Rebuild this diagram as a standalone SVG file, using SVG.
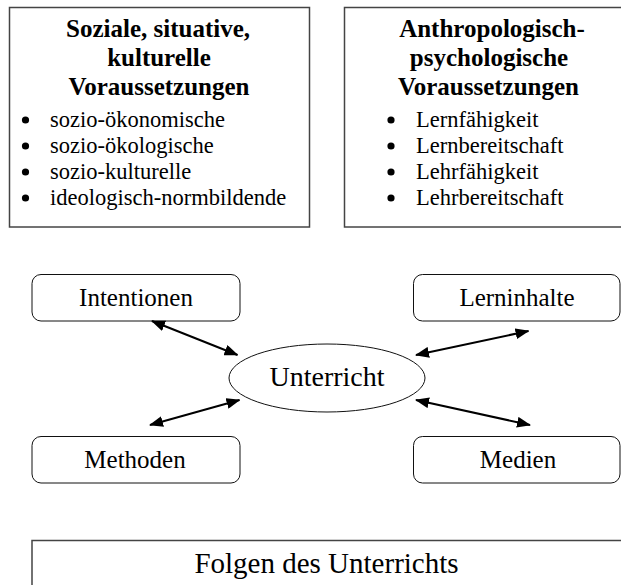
<svg xmlns="http://www.w3.org/2000/svg" width="621" height="585" viewBox="0 0 621 585">
<style>
.box{fill:#fff;stroke:#444;stroke-width:1.5}
.node{fill:#fff;stroke:#111;stroke-width:1}
text{font-family:'Liberation Serif','Times New Roman',Times,serif;fill:#000}
.title{font-weight:bold;font-size:25px;text-anchor:middle}
.item{font-size:22.5px}
.lab{font-size:25px;text-anchor:middle}
.big{font-size:28px;text-anchor:middle}
.folg{font-size:29px;text-anchor:middle}
.con{stroke:#000;stroke-width:2;fill:none;marker-start:url(#ah);marker-end:url(#ah)}
</style>
<defs>
<marker id="ah" viewBox="0 0 14 11" refX="13" refY="5.5" markerWidth="14" markerHeight="11" markerUnits="userSpaceOnUse" orient="auto-start-reverse">
<path d="M0,0 L14,5.5 L0,11 z" fill="#000"/>
</marker>
</defs>
<rect width="621" height="585" fill="#fff"/>
<g id="soziale">
<rect class="box" x="9.5" y="7.5" width="300" height="219.5"/>
<text class="title" x="158" y="37">Soziale, situative,</text>
<text class="title" x="159" y="66">kulturelle</text>
<text class="title" x="159" y="95">Voraussetzungen</text>
<circle cx="25.5" cy="120" r="3.6"/>
<circle cx="25.5" cy="146" r="3.6"/>
<circle cx="25.5" cy="172" r="3.6"/>
<circle cx="25.5" cy="198" r="3.6"/>
<text class="item" x="50" y="127">sozio-ökonomische</text>
<text class="item" x="50" y="153">sozio-ökologische</text>
<text class="item" x="50" y="179">sozio-kulturelle</text>
<text class="item" x="50" y="205">ideologisch-normbildende</text>
</g>
<g id="anthropologisch">
<rect class="box" x="344.5" y="7.5" width="300" height="219.5"/>
<text class="title" x="492" y="37">Anthropologisch-</text>
<text class="title" x="489" y="66">psychologische</text>
<text class="title" x="488.5" y="95">Voraussetzungen</text>
<circle cx="391" cy="120" r="3.6"/>
<circle cx="391" cy="146" r="3.6"/>
<circle cx="391" cy="172" r="3.6"/>
<circle cx="391" cy="198" r="3.6"/>
<text class="item" x="416" y="127">Lernfähigkeit</text>
<text class="item" x="416" y="153">Lernbereitschaft</text>
<text class="item" x="416" y="179">Lehrfähigkeit</text>
<text class="item" x="416" y="205">Lehrbereitschaft</text>
</g>
<g id="intentionen">
<rect class="node" x="32" y="274.5" width="208" height="46.5" rx="9"/>
<text class="lab" x="136" y="306">Intentionen</text>
</g>
<g id="lerninhalte">
<rect class="node" x="413.5" y="274.5" width="206.5" height="46.5" rx="9"/>
<text class="lab" x="517" y="306">Lerninhalte</text>
</g>
<g id="unterricht">
<ellipse class="node" cx="327" cy="378" rx="98" ry="34"/>
<text class="big" x="327" y="386">Unterricht</text>
</g>
<g id="methoden">
<rect class="node" x="32" y="436.5" width="208" height="46.5" rx="9"/>
<text class="lab" x="135" y="468">Methoden</text>
</g>
<g id="medien">
<rect class="node" x="413.5" y="436.5" width="206.5" height="46.5" rx="9"/>
<text class="lab" x="518" y="468">Medien</text>
</g>
<g id="folgen">
<rect class="box" x="32" y="540.5" width="620" height="80"/>
<text class="folg" x="326.5" y="573">Folgen des Unterrichts</text>
</g>
<g id="connectors">
<line class="con" x1="152" y1="321" x2="237.5" y2="355"/>
<line class="con" x1="528.5" y1="331" x2="416" y2="355"/>
<line class="con" x1="150" y1="425" x2="239.5" y2="400"/>
<line class="con" x1="416" y1="400" x2="530" y2="425"/>
</g>
</svg>
